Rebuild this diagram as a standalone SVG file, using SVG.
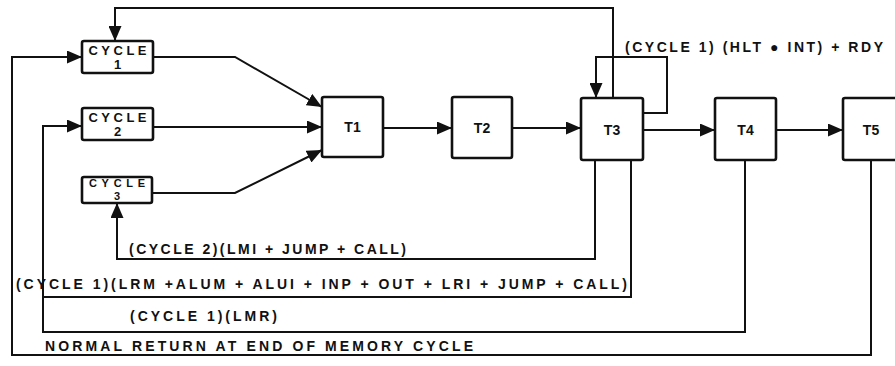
<svg xmlns="http://www.w3.org/2000/svg" width="895" height="366" viewBox="0 0 895 366">
<style>
.box{fill:#fff;stroke:#111;stroke-width:2.6}
.ln{fill:none;stroke:#111;stroke-width:2}
.arr{marker-end:url(#ah)}
text{font-family:"Liberation Sans",Arial,sans-serif;font-weight:bold;fill:#111}
.nl{font-size:13px;text-anchor:middle}
.n3{font-size:11px;text-anchor:middle}
.tl{font-size:14px;text-anchor:middle}
.lb{font-size:14px}
</style>
<defs>
<marker id="ah" markerUnits="userSpaceOnUse" markerWidth="15" markerHeight="13" refX="15" refY="6.5" orient="auto">
<path d="M0,0 L15,6.5 L0,13 z" fill="#111"/>
</marker>
</defs>
<rect width="895" height="366" fill="#fff"/>
<g id="connectors">
<polyline class="ln arr" points="613,98 613,8 115,8 115,41"/>
<polyline class="ln arr" points="871,160 871,355 12,355 12,57 82,57"/>
<polyline class="ln arr" points="745,160 745,332 43,332 43,126 82,126"/>
<polyline class="ln" points="631,160 631,297 43,297"/>
<polyline class="ln arr" points="595,160 595,259 117,259 117,203"/>
<polyline class="ln arr" points="153,57 235,57 322,107"/>
<polyline class="ln arr" points="153,127 322,127"/>
<polyline class="ln arr" points="152,193 235,193 322,150"/>
<line class="ln arr" x1="383" y1="128" x2="452" y2="128"/>
<line class="ln arr" x1="512" y1="128" x2="581" y2="128"/>
<polyline class="ln arr" points="643,113 667,113 667,57 596,57 596,98"/>
<line class="ln arr" x1="643" y1="130" x2="715" y2="130"/>
<line class="ln arr" x1="776" y1="130" x2="843" y2="130"/>
<text class="lb" x="625" y="52" textLength="258" lengthAdjust="spacing">(CYCLE 1) (HLT ● INT) + RDY</text>
<text class="lb" x="129" y="254" textLength="277" lengthAdjust="spacing">(CYCLE 2)(LMI + JUMP + CALL)</text>
<text class="lb" x="16" y="289" textLength="611" lengthAdjust="spacing">(CYCLE 1)(LRM +ALUM + ALUI + INP + OUT + LRI + JUMP + CALL)</text>
<text class="lb" x="130" y="321" textLength="147" lengthAdjust="spacing">(CYCLE 1)(LMR)</text>
<text class="lb" x="45" y="351" textLength="428" lengthAdjust="spacing">NORMAL RETURN AT END OF MEMORY CYCLE</text>
</g>
<g id="cycle1">
<rect class="box" x="82" y="41" width="71" height="32" rx="2"/>
<text class="nl" x="117.5" y="55" textLength="58" lengthAdjust="spacing">CYCLE</text>
<text class="nl" x="117.5" y="69">1</text>
</g>
<g id="cycle2">
<rect class="box" x="82" y="108" width="71" height="32" rx="2"/>
<text class="nl" x="117.5" y="122" textLength="58" lengthAdjust="spacing">CYCLE</text>
<text class="nl" x="117.5" y="136">2</text>
</g>
<g id="cycle3">
<rect class="box" x="82" y="177" width="70" height="26" rx="2"/>
<text class="n3" x="117" y="187" textLength="56" lengthAdjust="spacing">CYCLE</text>
<text class="n3" x="117" y="200">3</text>
</g>
<g id="t1">
<rect class="box" x="322" y="97" width="61" height="60" rx="2"/>
<text class="tl" x="352.5" y="132">T1</text>
</g>
<g id="t2">
<rect class="box" x="452" y="97" width="60" height="61" rx="2"/>
<text class="tl" x="482" y="133">T2</text>
</g>
<g id="t3">
<rect class="box" x="581" y="98" width="62" height="62" rx="2"/>
<text class="tl" x="612" y="135">T3</text>
</g>
<g id="t4">
<rect class="box" x="715" y="98" width="61" height="62" rx="2"/>
<text class="tl" x="745.5" y="135">T4</text>
</g>
<g id="t5">
<rect class="box" x="843" y="98" width="62" height="62" rx="2"/>
<text class="tl" x="871" y="135">T5</text>
</g>
</svg>
